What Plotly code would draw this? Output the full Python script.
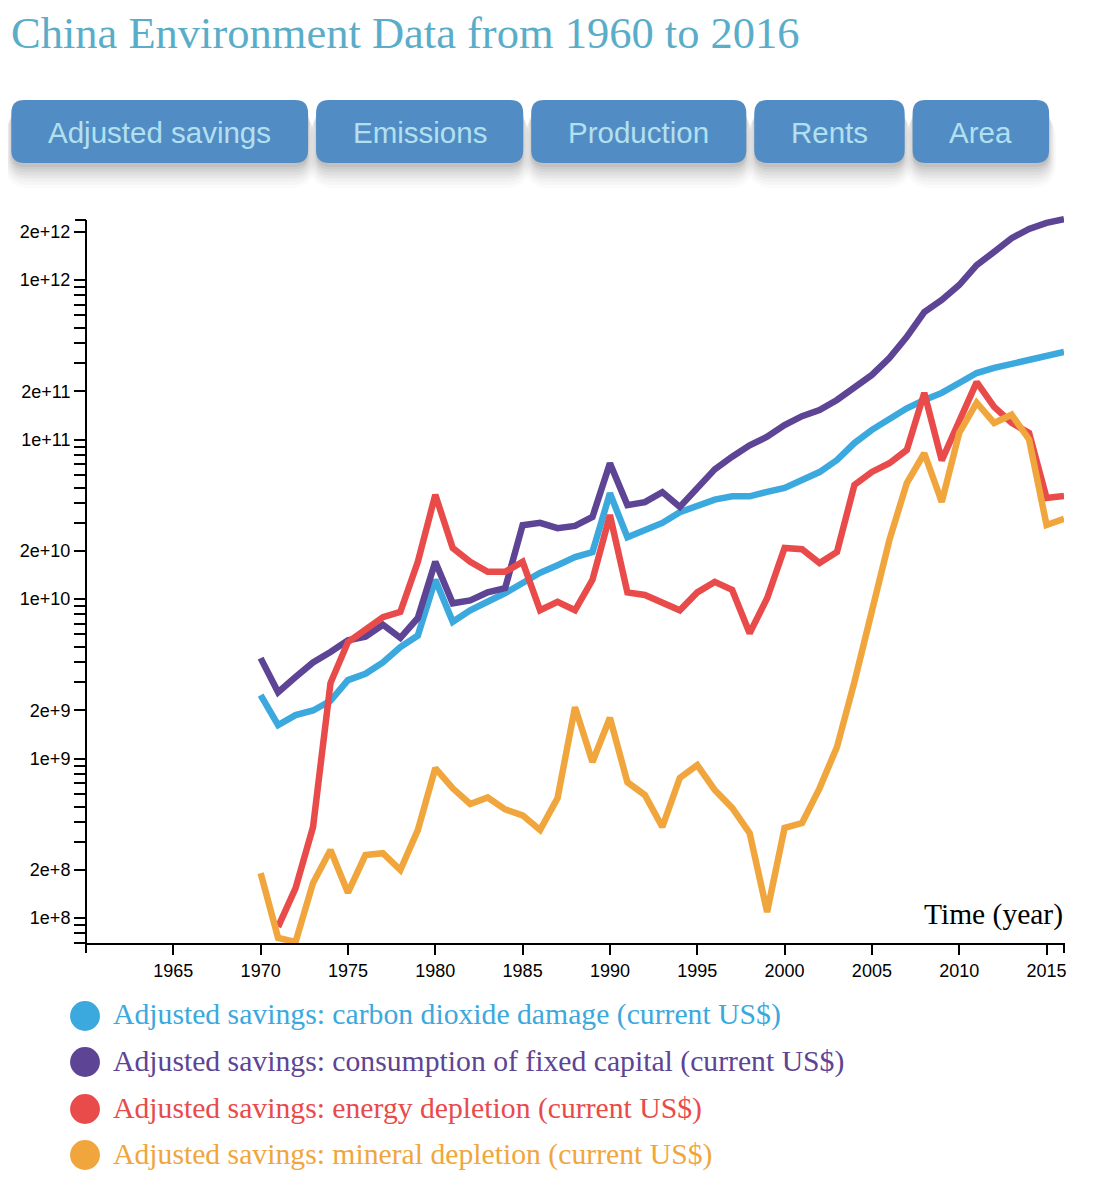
import plotly.graph_objects as go

# ---------------- data ----------------
years_blue = list(range(1970, 2017))
co2_damage = [2.5e9, 1.62e9, 1.87e9, 2.0e9, 2.3e9, 3.1e9, 3.4e9, 4.0e9, 5.0e9, 5.9e9,
              1.32e10, 7.2e9, 8.5e9, 9.6e9, 1.09e10, 1.26e10, 1.46e10, 1.63e10, 1.83e10, 1.97e10,
              4.6e10, 2.44e10, 2.7e10, 3.0e10, 3.5e10, 3.8e10, 4.2e10, 4.4e10, 4.4e10, 4.7e10,
              4.97e10, 5.57e10, 6.25e10, 7.43e10, 9.5e10, 1.15e11, 1.36e11, 1.57e11, 1.77e11, 1.96e11,
              2.26e11, 2.61e11, 2.81e11, 2.97e11, 3.1e11, 3.29e11, 3.54e11]

years_purple = list(range(1970, 2017))
fixed_capital = [4.26e9, 2.6e9, 3.24e9, 4.0e9, 4.65e9, 5.5e9, 5.8e9, 6.9e9, 5.7e9, 7.6e9,
                 1.71e10, 9.4e9, 9.8e9, 1.1e10, 1.17e10, 2.9e10, 3.0e10, 2.78e10, 2.87e10, 3.27e10,
                 7.1e10, 3.88e10, 4.05e10, 4.68e10, 3.78e10, 5.0e10, 6.5e10, 7.8e10, 9.2e10, 1.04e11,
                 1.23e11, 1.40e11, 1.53e11, 1.77e11, 2.14e11, 2.54e11, 3.24e11, 4.4e11, 6.3e11, 7.5e11,
                 9.3e11, 1.24e12, 1.5e12, 1.83e12, 2.09e12, 2.28e12, 2.41e12]

years_red = list(range(1971, 2017))
energy_depletion = [8.8e7, 1.54e8, 3.72e8, 2.97e9, 5.37e9, 6.4e9, 7.7e9, 8.3e9, 1.71e10,
                    4.5e10, 2.09e10, 1.71e10, 1.48e10, 1.48e10, 1.71e10, 8.5e9, 9.6e9, 8.5e9, 1.32e10,
                    3.36e10, 1.1e10, 1.06e10, 9.4e9, 8.5e9, 1.1e10, 1.28e10, 1.14e10, 6.1e9, 1.01e10,
                    2.09e10, 2.05e10, 1.68e10, 1.97e10, 5.19e10, 6.26e10, 7.1e10, 8.6e10, 1.96e11, 7.4e10,
                    1.32e11, 2.29e11, 1.6e11, 1.27e11, 1.1e11, 4.3e10, 4.43e10]

years_orange = list(range(1970, 2017))
mineral_depletion = [1.91e8, 7.5e7, 7.08e7, 1.66e8, 2.67e8, 1.44e8, 2.48e8, 2.55e8, 2.0e8, 3.56e8,
                     8.7e8, 6.5e8, 5.19e8, 5.7e8, 4.8e8, 4.4e8, 3.56e8, 5.65e8, 2.1e9, 9.5e8,
                     1.8e9, 7.1e8, 5.9e8, 3.72e8, 7.55e8, 9.1e8, 6.35e8, 4.9e8, 3.41e8, 1.09e8,
                     3.67e8, 3.94e8, 6.5e8, 1.18e9, 3.02e9, 8.3e9, 2.34e10, 5.33e10, 8.2e10, 4.06e10,
                     1.1e11, 1.7e11, 1.27e11, 1.43e11, 1.0e11, 2.91e10, 3.18e10]

series_names = ["Adjusted savings: carbon dioxide damage (current US$)",
                "Adjusted savings: consumption of fixed capital (current US$)",
                "Adjusted savings: energy depletion (current US$)",
                "Adjusted savings: mineral depletion (current US$)"]
series_colors = ["#3ba8de", "#5d4494", "#e94a4a", "#f0a63c"]

button_labels = ["Adjusted savings", "Emissions", "Production", "Rents", "Area"]
x_tick_vals = list(range(1965, 2016, 5))

title_text = "China Environment Data from 1960 to 2016"
x_title = "Time (year)"

# ---------------- layout geometry (page pixels) ----------------
OX, OY = 8, 8              # body margin: where the figure lands on the page
W, H = 1094 - 2 * OX, 1185 - 2 * OY
PLOT_L, PLOT_R = 82, 1064  # page px of plot area
PLOT_T, PLOT_B = 212, 943
AX_TOP = 220               # page px where the visible y axis line starts
L = PLOT_L - OX
T = PLOT_T - OY
R = W - (PLOT_R - OX)
B = H - (PLOT_B - OY)
PW = PLOT_R - PLOT_L
PH = PLOT_B - PLOT_T


def px(x):
    return (x - PLOT_L) / PW


def py(y):
    return (PLOT_B - y) / PH


fig = go.Figure()
for xs, ys, name, col in zip([years_blue, years_purple, years_red, years_orange],
                             [co2_damage, fixed_capital, energy_depletion, mineral_depletion],
                             series_names, series_colors):
    fig.add_trace(go.Scatter(x=xs, y=ys, mode="lines", name=name,
                             line=dict(color=col, width=6.5), showlegend=False))

# y ticks: 1..9 x 10^k, labels at 1 and 2
y_tick_vals, y_tick_text = [], []
for k in range(7, 13):
    for m in range(1, 10):
        v = m * 10 ** k
        if 7e7 <= v <= 2.3e12:
            y_tick_vals.append(v)
            y_tick_text.append(f"{m}e+{k}" if m in (1, 2) else "")

# y range: 1e8 at 918px, 159.5 px per decade
bottom_log = 8 - (PLOT_B - 918) / 159.5
top_log = bottom_log + PH / 159.5

tick_font = dict(family="Liberation Sans, Arial", size=18, color="black")
fig.update_layout(
    width=W, height=H,
    margin=dict(l=L, r=R, t=T, b=B),
    paper_bgcolor="white", plot_bgcolor="white",
    xaxis=dict(range=[1960, 2016], tickvals=x_tick_vals, ticks="outside", ticklen=10,
               tickwidth=2, tickcolor="black", showline=True, linecolor="black", linewidth=2,
               showgrid=False, zeroline=False, tickfont=tick_font),
    yaxis=dict(type="log", range=[bottom_log, top_log], tickvals=y_tick_vals,
               ticktext=y_tick_text, ticks="outside", ticklen=11, tickwidth=2,
               tickcolor="black", showline=False, showgrid=False, zeroline=False,
               tickfont=tick_font),
)

shapes = []
# y axis spine and outer ticks
shapes.append(dict(type="line", xref="paper", yref="paper", x0=0, x1=0,
                   y0=py(AX_TOP), y1=py(PLOT_B), line=dict(color="black", width=2)))
shapes.append(dict(type="line", xref="paper", yref="paper", x0=px(71), x1=0,
                   y0=py(AX_TOP), y1=py(AX_TOP), line=dict(color="black", width=2)))
shapes.append(dict(type="line", xref="paper", yref="paper", x0=px(71), x1=0,
                   y0=0, y1=0, line=dict(color="black", width=2)))
# x axis outer ticks
for xv in [0, 1]:
    shapes.append(dict(type="line", xref="paper", yref="paper", x0=xv, x1=xv,
                       y0=0, y1=py(953), line=dict(color="black", width=2)))


def rounded_rect(x0, y0, x1, y1, r):
    def P(x, y):
        return f"{px(x):.5f},{py(y):.5f}"
    return (f"M {P(x0 + r, y0)} L {P(x1 - r, y0)} Q {P(x1, y0)} {P(x1, y0 + r)} "
            f"L {P(x1, y1 - r)} Q {P(x1, y1)} {P(x1 - r, y1)} L {P(x0 + r, y1)} "
            f"Q {P(x0, y1)} {P(x0, y1 - r)} L {P(x0, y0 + r)} Q {P(x0, y0)} {P(x0 + r, y0)} Z")


button_boxes = [(7, 305), (313, 521), (529, 745), (753, 904), (912, 1049)]
annotations = []
shadow_layers = [(18, 12, 0.015), (16, 10, 0.02), (14, 8, 0.025), (12, 6, 0.03),
                 (10, 4, 0.035), (8, 2, 0.04), (6, 1, 0.045), (4, 0, 0.05)]
for (bx0, bx1), lab in zip(button_boxes, button_labels):
    for off, grow, op in shadow_layers:
        shapes.append(dict(type="path", xref="paper", yref="paper",
                           path=rounded_rect(bx0 - grow * 0.6, 100 + off - grow * 0.3,
                                             bx1 + grow * 0.6, 163 + off + grow * 0.6, 14 + grow),
                           fillcolor=f"rgba(0,0,0,{op})", line=dict(width=0), layer="below"))
    shapes.append(dict(type="path", xref="paper", yref="paper",
                       path=rounded_rect(bx0, 100, bx1, 163, 13),
                       fillcolor="#518dc4", line=dict(width=0), layer="below"))
    annotations.append(dict(xref="paper", yref="paper", x=px((bx0 + bx1) / 2), y=py(132),
                            text=lab, showarrow=False, xanchor="center", yanchor="middle",
                            font=dict(family="Liberation Sans, Arial", size=29.5, color="#b3e0f0")))

# title
annotations.append(dict(xref="paper", yref="paper", x=px(5), y=py(33), text=title_text,
                        showarrow=False, xanchor="left", yanchor="middle",
                        font=dict(family="Liberation Serif, Times New Roman", size=44.5, color="#5aadc8")))
# x axis title
annotations.append(dict(xref="paper", yref="paper", x=px(1065), y=py(914), text=x_title,
                        showarrow=False, xanchor="right", yanchor="middle",
                        font=dict(family="Liberation Serif, Times New Roman", size=29.5, color="black")))

# legend
legend_y = [1016, 1062, 1109, 1155]
for yy, name, col in zip(legend_y, series_names, series_colors):
    shapes.append(dict(type="circle", xref="paper", yref="paper",
                       x0=px(66), x1=px(96), y0=py(yy - 15), y1=py(yy + 15),
                       fillcolor=col, line=dict(width=0)))
    annotations.append(dict(xref="paper", yref="paper", x=px(107), y=py(yy - 1), text=name,
                            showarrow=False, xanchor="left", yanchor="middle",
                            font=dict(family="Liberation Serif, Times New Roman", size=29.7, color=col)))

fig.update_layout(shapes=shapes, annotations=annotations)
fig.write_html("out.html")
